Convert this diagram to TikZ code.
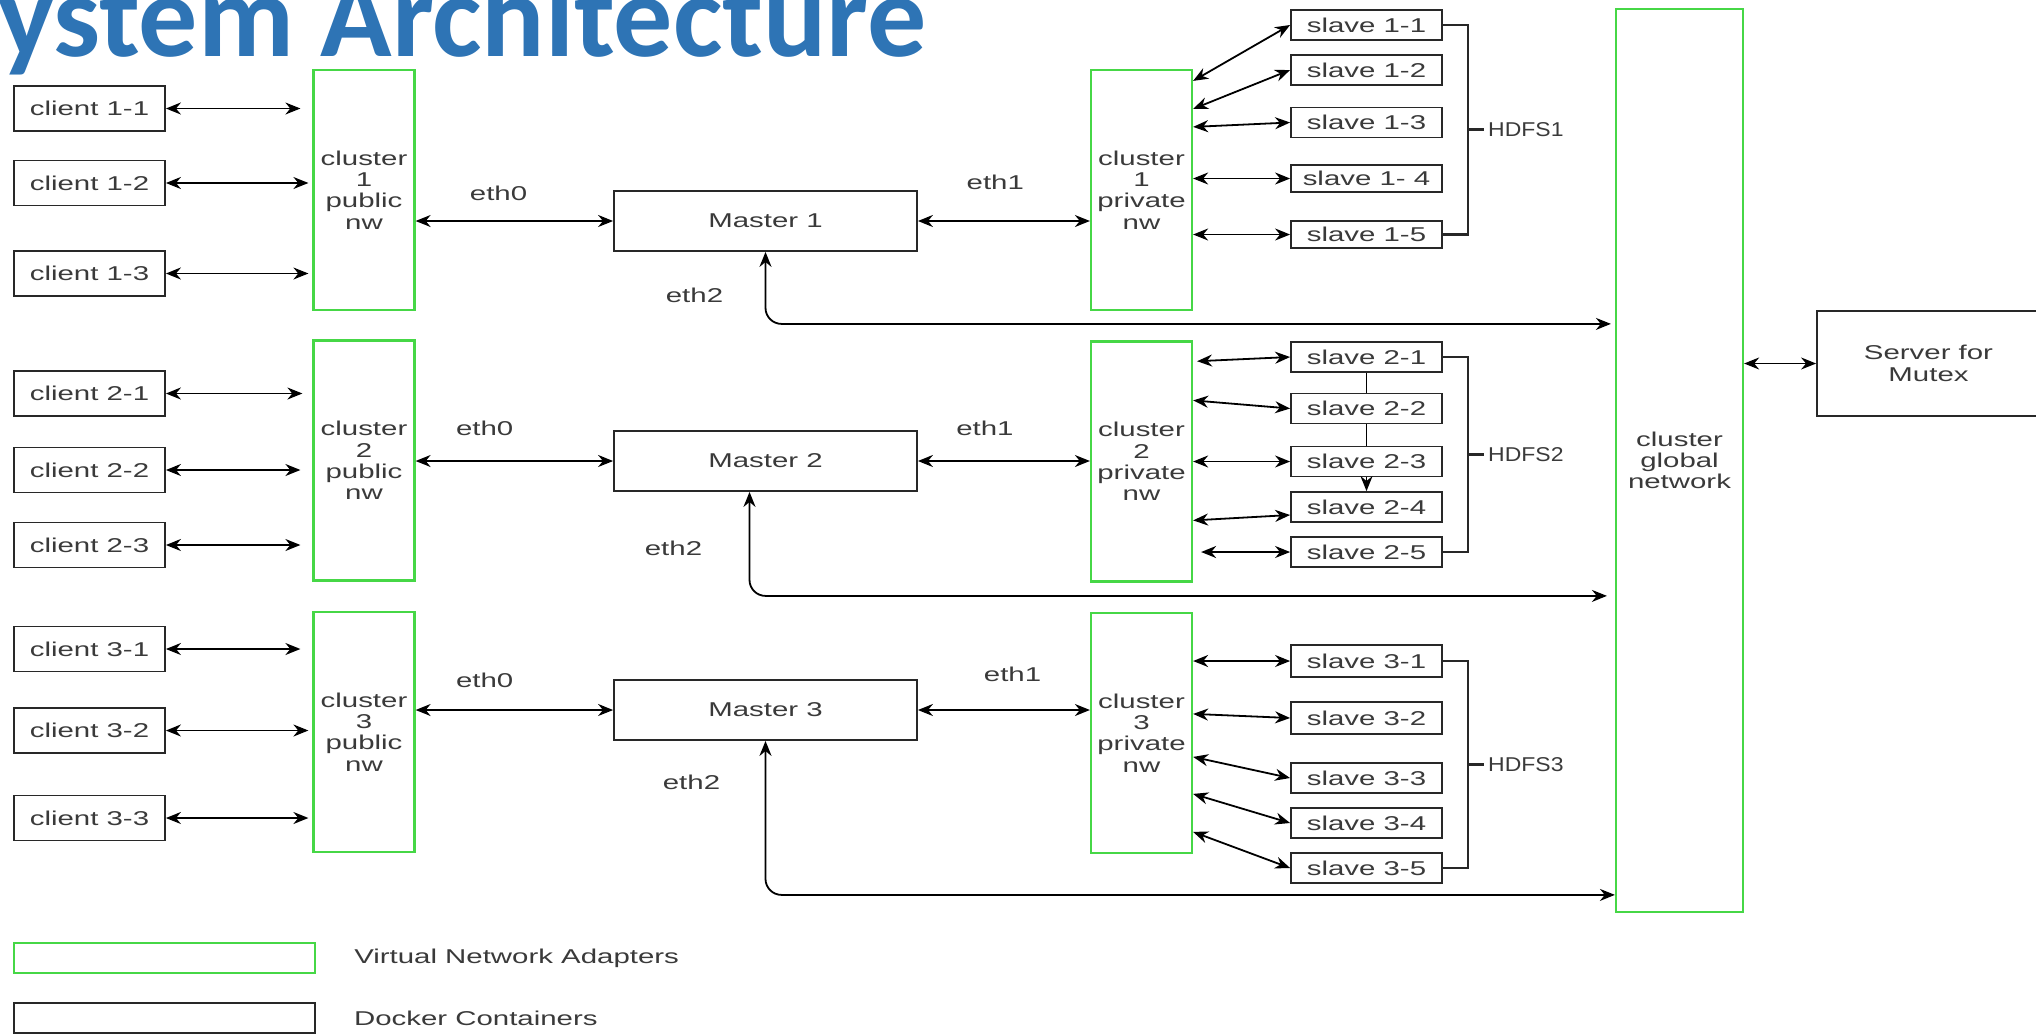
\documentclass[tikz,border=0pt]{standalone}
\usepackage{fontspec}
\setmainfont{Liberation Sans}[FakeStretch=1.47]
\newfontfamily\titlefont{Carlito}
\newfontfamily\hdfsfont{Liberation Sans}[FakeStretch=1.15]
\usetikzlibrary{positioning, arrows.meta, calc}
\definecolor{titleblue}{RGB}{46,116,181}
\definecolor{adgreen}{RGB}{70,215,70}
\definecolor{boxgray}{RGB}{40,40,40}
\definecolor{txtgray}{RGB}{58,58,58}

\begin{document}
\begin{tikzpicture}[x=1pt, y=-1pt,
  txt/.style={text=txtgray, font=\fontsize{20}{21.3}\selectfont, align=center, inner sep=0pt},
  container/.style={txt, draw=boxgray, line width=1.8pt, rectangle},
  client/.style={container, minimum width=151pt, minimum height=45pt},
  master/.style={container, minimum width=303pt, minimum height=60pt},
  slave/.style={container, minimum width=151pt, minimum height=30pt},
  adapter/.style={txt, draw=adgreen, line width=2.2pt, minimum width=101pt, minimum height=240pt},
  lbl/.style={txt},
  hdfslbl/.style={txt, font=\hdfsfont\fontsize{20}{21.3}\selectfont},
  >={Stealth[length=15pt, width=12pt]},
  link/.style={<->, line width=1.8pt},
  arrow/.style={->, line width=1.8pt},
  bracket/.style={draw=boxgray, line width=2.6pt}
]
  \useasboundingbox (0,0) rectangle (2036,1034);
  \clip (0,0) rectangle (2036,1034);

  \node[anchor=base west, inner sep=0pt, text=titleblue, font=\titlefont\bfseries\fontsize{118}{118}\selectfont] (title) at (-56,56) {System Architecture};

  % clients
  \node[client] (c11) at (89.5,108.5) {client 1-1};
  \node[client] (c12) at (89.5,183)   {client 1-2};
  \node[client] (c13) at (89.5,273.5) {client 1-3};
  \node[client] (c21) at (89.5,393.5) {client 2-1};
  \node[client] (c22) at (89.5,470)   {client 2-2};
  \node[client] (c23) at (89.5,545)   {client 2-3};
  \node[client] (c31) at (89.5,649)   {client 3-1};
  \node[client] (c32) at (89.5,730.5) {client 3-2};
  \node[client] (c33) at (89.5,818)   {client 3-3};

  % public networks
  \node[adapter] (pub1) at (364,190)   {cluster\\1\\public\\nw};
  \node[adapter] (pub2) at (364,460.5) {cluster\\2\\public\\nw};
  \node[adapter] (pub3) at (364,732)   {cluster\\3\\public\\nw};

  % masters
  \node[master] (m1) at (765.5,221) {Master 1};
  \node[master] (m2) at (765.5,461) {Master 2};
  \node[master] (m3) at (765.5,710) {Master 3};

  % private networks
  \node[adapter] (prv1) at (1141.5,190)   {cluster\\1\\private\\nw};
  \node[adapter] (prv2) at (1141.5,461.5) {cluster\\2\\private\\nw};
  \node[adapter] (prv3) at (1141.5,733)   {cluster\\3\\private\\nw};

  % slaves
  \node[slave] (s11) at (1366.5,25)    {slave 1-1};
  \node[slave] (s12) at (1366.5,70)    {slave 1-2};
  \node[slave] (s13) at (1366.5,122.5) {slave 1-3};
  \node[slave, minimum height=27pt] (s14) at (1366.5,178.5) {slave 1- 4};
  \node[slave, minimum height=27pt] (s15) at (1366.5,234.5) {slave 1-5};
  \node[slave] (s21) at (1366.5,357)   {slave 2-1};
  \node[slave] (s22) at (1366.5,408.5) {slave 2-2};
  \node[slave] (s23) at (1366.5,461.5) {slave 2-3};
  \node[slave] (s24) at (1366.5,507)   {slave 2-4};
  \node[slave] (s25) at (1366.5,552)   {slave 2-5};
  \node[slave, minimum height=32pt] (s31) at (1366.5,661)   {slave 3-1};
  \node[slave, minimum height=32pt] (s32) at (1366.5,718) {slave 3-2};
  \node[slave] (s33) at (1366.5,778)   {slave 3-3};
  \node[slave] (s34) at (1366.5,823)   {slave 3-4};
  \node[slave] (s35) at (1366.5,868)   {slave 3-5};

  % global network and mutex server
  \node[adapter, minimum width=127pt, minimum height=903pt] (glb) at (1679.5,460.5) {cluster\\global\\network};
  \node[container, minimum width=223pt, minimum height=105pt] (srv) at (1928.5,363.5) {Server for\\Mutex};

  % legend
  \node[adapter, minimum width=301pt, minimum height=30pt] (keyad) at (164.5,958) {};
  \node[container, minimum width=301pt, minimum height=30pt] (keydc) at (164.5,1018) {};
  \node[lbl, right=38pt of keyad] (keyadtxt) {Virtual Network Adapters};
  \node[lbl, right=38pt of keydc] (keydctxt) {Docker Containers};

  % clients to public networks
  \draw[link, shorten >=12pt] (c11.east) -- (c11.east -| pub1.west);
  \draw[link, shorten >=4pt]  (c12.east) -- (c12.east -| pub1.west);
  \draw[link, shorten >=4pt]  (c13.east) -- (c13.east -| pub1.west);
  \draw[link, shorten >=10pt] (c21.east) -- (c21.east -| pub2.west);
  \draw[link, shorten >=12pt] (c22.east) -- (c22.east -| pub2.west);
  \draw[link, shorten >=12pt] (c23.east) -- (c23.east -| pub2.west);
  \draw[link, shorten >=12pt] (c31.east) -- (c31.east -| pub3.west);
  \draw[link, shorten >=4pt]  (c32.east) -- (c32.east -| pub3.west);
  \draw[link, shorten >=4pt]  (c33.east) -- (c33.east -| pub3.west);

  % eth0 and eth1
  \draw[link] (pub1.east |- m1.west) -- node[lbl, pos=.42, yshift=28pt] (eth01) {eth0} (m1.west);
  \draw[link] (pub2.east |- m2.west) -- node[lbl, pos=.35, yshift=33pt] (eth02) {eth0} (m2.west);
  \draw[link] (pub3.east |- m3.west) -- node[lbl, pos=.35, yshift=30pt] (eth03) {eth0} (m3.west);
  \draw[link] (m1.east) -- node[lbl, pos=.45, yshift=39pt] (eth11) {eth1} (m1.east -| prv1.west);
  \draw[link] (m2.east) -- node[lbl, pos=.39, yshift=33pt] (eth12) {eth1} (m2.east -| prv2.west);
  \draw[link] (m3.east) -- node[lbl, pos=.55, yshift=36pt] (eth13) {eth1} (m3.east -| prv3.west);

  % eth2 to the global network
  \coordinate (g1) at ($(glb.north west)+(0,316)$);
  \coordinate (g2) at ($(glb.north west)+(0,588)$);
  \coordinate (g3) at ($(glb.north west)+(0,887)$);
  \draw[link, rounded corners=16pt, shorten >=4pt] (m1.south) |- node[lbl, pos=.3, xshift=-71pt] (eth21) {eth2} (g1);
  \draw[link, rounded corners=16pt, shorten >=8pt] ([xshift=-16pt]m2.south) |- node[lbl, pos=.27, xshift=-76pt] (eth22) {eth2} (g2);
  \draw[link, rounded corners=16pt] (m3.south) |- node[lbl, pos=.135, xshift=-74pt] (eth23) {eth2} (g3);
  \draw[link] (srv.west -| glb.east) -- (srv.west);

  % private networks to slaves
  \draw[link] ($(prv1.north east)+(0,12)$)  -- (s11.west);
  \draw[link] ($(prv1.north east)+(0,40)$)  -- (s12.west);
  \draw[link] ($(prv1.north east)+(0,58)$)  -- (s13.west);
  \draw[link] (prv1.east |- s14.west) -- (s14.west);
  \draw[link] (prv1.east |- s15.west) -- (s15.west);

  \draw[link, shorten <=4pt] ($(prv2.north east)+(0,21)$) -- (s21.west);
  \draw[link] ($(prv2.north east)+(0,60)$)  -- (s22.west);
  \draw[link] (prv2.east |- s23.west) -- (s23.west);
  \draw[link] ($(prv2.north east)+(0,180)$) -- ([yshift=-8pt]s24.west);
  \draw[link, shorten <=8pt] (prv2.east |- s25.west) -- (s25.west);
  \draw[line width=1.8pt] (s21) -- (s22);
  \draw[line width=1.8pt] (s22) -- (s23);
  \draw[arrow] (s23) -- (s24);

  \draw[link] (prv3.east |- s31.west) -- (s31.west);
  \draw[link] ($(prv3.north east)+(0,102)$) -- (s32.west);
  \draw[link] ($(prv3.north east)+(0,145)$) -- (s33.west);
  \draw[link] ($(prv3.north east)+(0,182)$) -- (s34.west);
  \draw[link] ($(prv3.north east)+(0,220)$) -- (s35.west);

  % HDFS groups
  \coordinate (h1) at ($(s11.east)!.5!(s15.east)+(25,0)$);
  \coordinate (h2) at ($(s21.east)!.5!(s25.east)+(25,0)$);
  \coordinate (h3) at ($(s31.east)!.5!(s35.east)+(25,0)$);
  \draw[bracket] (s11.east) -| (h1) |- (s15.east);
  \draw[bracket] (s21.east) -| (h2) |- (s25.east);
  \draw[bracket] (s31.east) -| (h3) |- (s35.east);
  \draw[bracket] (h1) -- ++(16,0) node[hdfslbl, right=3pt] (hdfs1) {HDFS1};
  \draw[bracket] (h2) -- ++(16,0) node[hdfslbl, right=3pt] (hdfs2) {HDFS2};
  \draw[bracket] (h3) -- ++(16,0) node[hdfslbl, right=3pt] (hdfs3) {HDFS3};
\end{tikzpicture}
\end{document}
